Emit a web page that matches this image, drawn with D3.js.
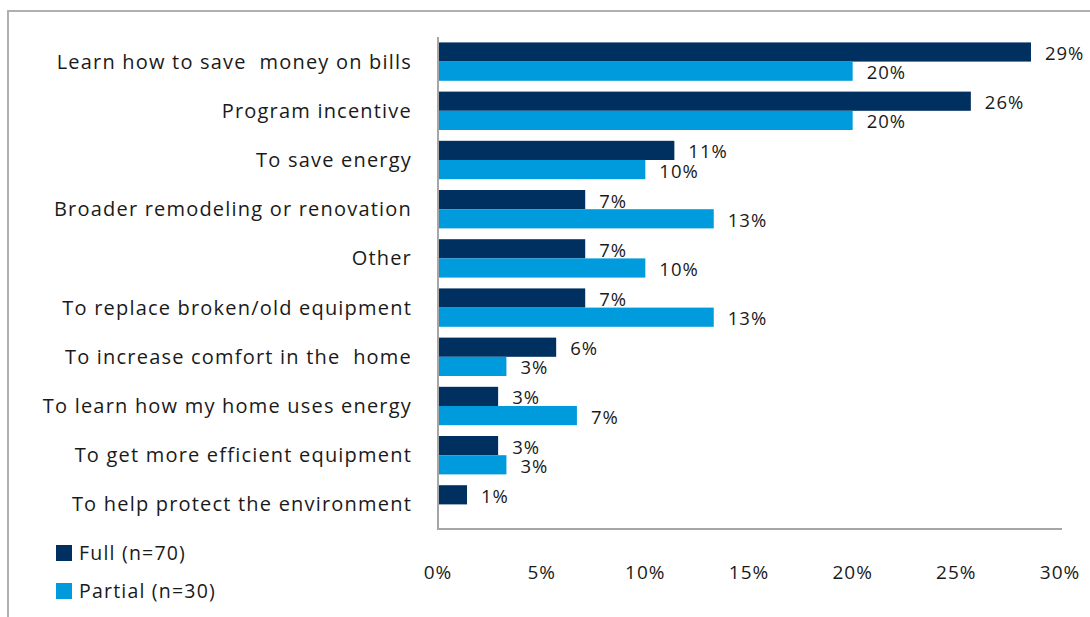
<!DOCTYPE html>
<html>
<head>
<meta charset="utf-8">
<script src="https://cdn.jsdelivr.net/npm/d3@7"></script>
<style>
  body { margin: 0; background: #fff; }
  svg text { font-family: "Open Sans", sans-serif; fill: #1a1a1a; letter-spacing: 1px; }
</style>
</head>
<body>
<svg id="chart" width="1090" height="617"></svg>
<script>
var categories = [
  'Learn how to save  money on bills',
  'Program incentive',
  'To save energy',
  'Broader remodeling or renovation',
  'Other',
  'To replace broken/old equipment',
  'To increase comfort in the  home',
  'To learn how my home uses energy',
  'To get more efficient equipment',
  'To help protect the environment'
]
var fullValues = [28.6, 25.7, 11.4, 7.1, 7.1, 7.1, 5.7, 2.9, 2.9, 1.4]
var partialValues = [20, 20, 10, 13.3, 10, 13.3, 3.3, 6.7, 3.3, null]
var seriesNames = ['Full (n=70)', 'Partial (n=30)']
var seriesColors = ['#00305f', '#009bdc']
var xTicks = [0, 5, 10, 15, 20, 25, 30]

var svg = d3.select('#chart')

// outer frame (runs off the right and bottom edges)
svg.append('path').attr('d', 'M8,1000 V11 H1200')
  .attr('fill', 'none').attr('stroke', '#b0b0b0').attr('stroke-width', 2)

var x = d3.scaleLinear().domain([0, 30]).range([438, 1060])
var y = d3.scaleBand().domain(categories).range([37, 529]).paddingInner(0.22).paddingOuter(0.11)
var sub = d3.scaleBand().domain([0, 1]).range([0, y.bandwidth()])

var groups = svg.selectAll('g.cat').data(categories).enter().append('g')
  .attr('class', 'cat')
  .attr('transform', function (d) { return 'translate(0,' + y(d) + ')' })

var series = [fullValues, partialValues]
series.forEach(function (vals, s) {
  groups.filter(function (d, i) { return vals[i] != null }).each(function (d) {
    var i = categories.indexOf(d)
    var g = d3.select(this)
    g.append('rect')
      .attr('x', x(0)).attr('y', sub(s))
      .attr('width', x(vals[i]) - x(0)).attr('height', sub.bandwidth())
      .attr('fill', seriesColors[s])
    g.append('text')
      .attr('x', x(vals[i]) + 14).attr('y', sub(s) + sub.bandwidth() / 2 + 1.5)
      .attr('dy', '0.35em').style('font-size', '18.5px')
      .text(Math.round(vals[i]) + '%')
  })
})

// category labels
groups.append('text')
  .attr('x', 412).attr('y', y.bandwidth() / 2)
  .attr('dy', '0.35em').attr('text-anchor', 'end')
  .style('font-size', '20px').style('letter-spacing', '1.2px').style('white-space', 'pre')
  .text(function (d) { return d })

// axis lines
svg.append('line').attr('x1', 438).attr('x2', 438).attr('y1', 37).attr('y2', 530)
  .attr('stroke', '#a6a6a6').attr('stroke-width', 2)
svg.append('line').attr('x1', 437).attr('x2', 1062).attr('y1', 529).attr('y2', 529)
  .attr('stroke', '#a6a6a6').attr('stroke-width', 2)

// x tick labels
svg.selectAll('text.tick').data(xTicks).enter().append('text')
  .attr('class', 'tick')
  .attr('x', function (d) { return x(d) }).attr('y', 572)
  .attr('dy', '0.35em').attr('text-anchor', 'middle')
  .style('font-size', '19px')
  .text(function (d) { return d + '%' })

// legend
seriesNames.forEach(function (name, s) {
  var ly = 553 + s * 38
  svg.append('rect').attr('x', 56).attr('y', ly - 8).attr('width', 16).attr('height', 16)
    .attr('fill', seriesColors[s])
  svg.append('text').attr('x', 79).attr('y', ly).attr('dy', '0.35em')
    .style('font-size', '19.5px').style('letter-spacing', '1.2px').text(name)
})
</script>
</body>
</html>
